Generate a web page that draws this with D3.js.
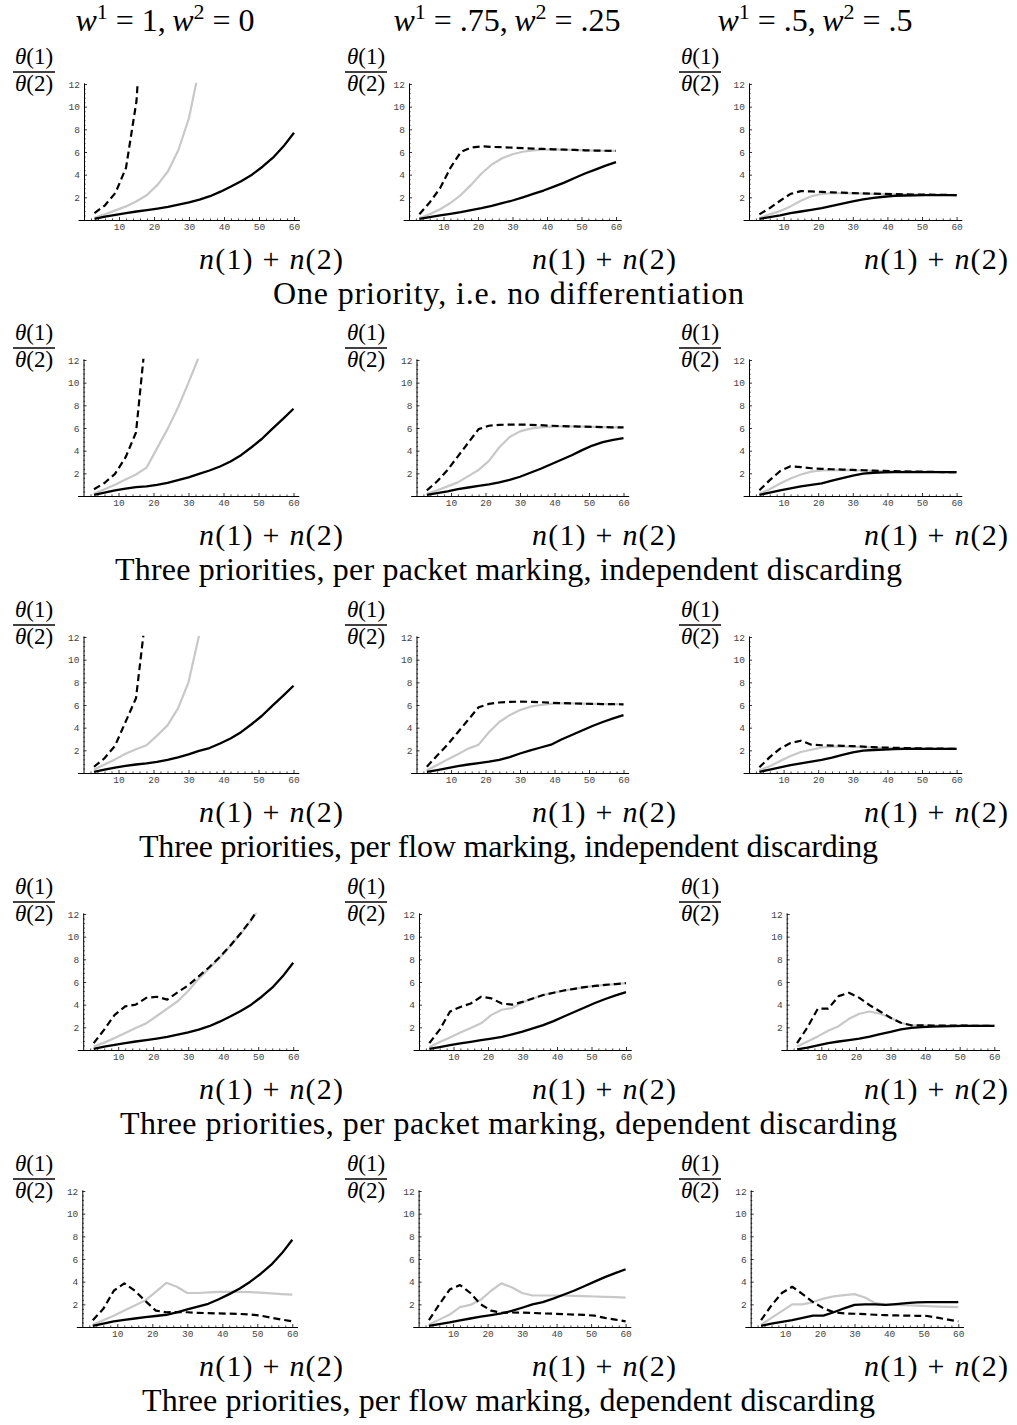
<!DOCTYPE html>
<html>
<head>
<meta charset="utf-8">
<script src="https://cdn.jsdelivr.net/npm/d3@7"></script>
<style>
  html, body { margin: 0; padding: 0; background: #fff; }
  svg { display: block; }
</style>
</head>
<body>
<svg id="fig" width="1017" height="1425"></svg>
<script>
// Total number of flows n(1)+n(2) at which the ratio was evaluated
const nValues = [3, 6, 9, 12, 15, 18, 21, 24, 27, 30, 33, 36, 39, 42, 45, 48, 51, 54, 57, 60];

// Column weights (w1, w2)
const weightW1 = ["1", ".75", ".5"];
const weightW2 = ["0", ".25", ".5"];

const rowCaptions = [
  "One priority, i.e. no differentiation",
  "Three priorities, per packet marking, independent discarding",
  "Three priorities, per flow marking, independent discarding",
  "Three priorities, per packet marking, dependent discarding",
  "Three priorities, per flow marking, dependent discarding"
];

const xTickValues = [10, 20, 30, 40, 50, 60];
const yTickValues = [2, 4, 6, 8, 10, 12];

// theta(1)/theta(2); each array holds the three weight columns, sampled on nValues
const noDiffDashed = [
  [0.6, 1.3, 2.4, 4.6, 10.5, 25],
  [0.5, 1.55, 2.8, 4.6, 6.0, 6.4, 6.5, 6.45, 6.42, 6.38, 6.34, 6.3, 6.27, 6.24, 6.21, 6.18, 6.15, 6.13, 6.11, 6.1],
  [0.5, 1.05, 1.7, 2.3, 2.55, 2.52, 2.48, 2.44, 2.41, 2.38, 2.35, 2.32, 2.3, 2.28, 2.26, 2.25, 2.24, 2.22, 2.21, 2.2]
];
const noDiffGray = [
  [0.2, 0.5, 0.85, 1.2, 1.65, 2.2, 3.1, 4.3, 6.2, 9.0, 13.5],
  [0.15, 0.5, 0.95, 1.5, 2.2, 3.1, 4.1, 4.9, 5.45, 5.8, 6.02, 6.15, 6.2, 6.24, 6.21, 6.18, 6.15, 6.13, 6.11, 6.1],
  [0.15, 0.5, 0.8, 1.2, 1.7, 2.1, 2.3, 2.36, 2.36, 2.35, 2.33, 2.31, 2.29, 2.27, 2.25, 2.24, 2.23, 2.22, 2.21, 2.2]
];
const noDiffBlack = [
  [0.1, 0.3, 0.45, 0.6, 0.75, 0.87, 1.0, 1.15, 1.35, 1.55, 1.8, 2.1, 2.5, 2.95, 3.45, 4.0, 4.7, 5.5, 6.5, 7.7],
  [0.1, 0.25, 0.4, 0.55, 0.7, 0.88, 1.05, 1.25, 1.48, 1.72, 2.0, 2.3, 2.6, 2.95, 3.3, 3.7, 4.1, 4.45, 4.8, 5.1],
  [0.1, 0.25, 0.4, 0.6, 0.75, 0.9, 1.05, 1.25, 1.45, 1.65, 1.82, 1.95, 2.05, 2.12, 2.16, 2.18, 2.19, 2.2, 2.2, 2.2]
];

const packetIndepDashed = [
  [0.6, 1.15, 1.95, 3.4, 5.6, 14.8],
  [0.5, 1.3, 2.3, 3.5, 4.7, 5.9, 6.2, 6.28, 6.3, 6.3, 6.28, 6.25, 6.2, 6.17, 6.14, 6.12, 6.1, 6.08, 6.06, 6.05],
  [0.5, 1.4, 2.2, 2.62, 2.55, 2.45, 2.4, 2.36, 2.33, 2.3, 2.27, 2.24, 2.21, 2.19, 2.17, 2.15, 2.14, 2.12, 2.11, 2.1]
];
const packetIndepGray = [
  [0.2, 0.6, 1.0, 1.45, 1.9, 2.5, 4.2, 5.9, 7.8, 10.0, 12.3],
  [0.2, 0.5, 0.85, 1.2, 1.75, 2.3, 3.1, 4.3, 5.2, 5.7, 5.95, 6.05, 6.12, 6.15, 6.14, 6.12, 6.1, 6.08, 6.06, 6.05],
  [0.2, 0.6, 1.1, 1.55, 1.9, 2.15, 2.25, 2.28, 2.28, 2.27, 2.25, 2.22, 2.2, 2.18, 2.16, 2.15, 2.13, 2.12, 2.11, 2.1]
];
const packetIndepBlack = [
  [0.1, 0.3, 0.5, 0.65, 0.78, 0.85, 0.98, 1.15, 1.4, 1.65, 1.95, 2.25, 2.6, 3.05, 3.6, 4.3, 5.05, 5.95, 6.8, 7.7],
  [0.1, 0.25, 0.4, 0.6, 0.75, 0.9, 1.02, 1.2, 1.42, 1.7, 2.05, 2.4, 2.8, 3.2, 3.6, 4.05, 4.45, 4.75, 4.95, 5.1],
  [0.1, 0.3, 0.5, 0.68, 0.85, 0.98, 1.12, 1.35, 1.58, 1.8, 1.98, 2.05, 2.08, 2.1, 2.1, 2.1, 2.1, 2.1, 2.1, 2.1]
];

const flowIndepDashed = [
  [0.55, 1.3, 2.4, 4.5, 6.6, 14.5],
  [0.55, 1.55, 2.5, 3.6, 4.7, 5.8, 6.1, 6.22, 6.27, 6.3, 6.28, 6.25, 6.2, 6.17, 6.14, 6.12, 6.1, 6.08, 6.07, 6.06],
  [0.5, 1.4, 2.15, 2.65, 2.85, 2.5, 2.45, 2.42, 2.4, 2.37, 2.33, 2.28, 2.24, 2.22, 2.2, 2.18, 2.16, 2.15, 2.14, 2.13]
];
const flowIndepGray = [
  [0.3, 0.75, 1.2, 1.7, 2.1, 2.45, 3.3, 4.2, 5.7, 8.0, 12.1],
  [0.25, 0.7, 1.2, 1.65, 2.15, 2.5, 3.6, 4.5, 5.1, 5.55, 5.85, 6.0, 6.1, 6.15, 6.14, 6.12, 6.1, 6.08, 6.07, 6.06],
  [0.25, 0.6, 1.05, 1.5, 1.85, 2.05, 2.25, 2.32, 2.32, 2.3, 2.28, 2.24, 2.22, 2.2, 2.18, 2.17, 2.15, 2.14, 2.13, 2.13]
];
const flowIndepBlack = [
  [0.1, 0.3, 0.48, 0.62, 0.75, 0.85, 0.98, 1.15, 1.38, 1.65, 1.95, 2.2, 2.6, 3.05, 3.6, 4.3, 5.05, 5.95, 6.8, 7.7],
  [0.1, 0.25, 0.42, 0.6, 0.75, 0.88, 1.0, 1.15, 1.4, 1.72, 2.0, 2.25, 2.5, 2.95, 3.35, 3.75, 4.15, 4.5, 4.82, 5.1],
  [0.1, 0.3, 0.5, 0.7, 0.85, 1.0, 1.15, 1.35, 1.6, 1.82, 1.97, 2.03, 2.07, 2.1, 2.12, 2.13, 2.13, 2.13, 2.13, 2.13]
];

const packetDepDashed = [
  [0.6, 1.8, 3.1, 3.85, 4.0, 4.6, 4.7, 4.45, 5.1, 5.7, 6.5, 7.3, 8.2, 9.2, 10.3, 11.5, 12.9],
  [0.6, 1.8, 3.4, 3.8, 4.1, 4.7, 4.55, 4.1, 4.0, 4.25, 4.55, 4.85, 5.05, 5.25, 5.4, 5.55, 5.65, 5.75, 5.82, 5.9],
  [0.6, 2.0, 3.65, 3.65, 4.75, 5.05, 4.6, 3.95, 3.4, 2.85, 2.4, 2.18, 2.17, 2.16, 2.16, 2.15, 2.15, 2.14, 2.14, 2.13]
];
const packetDepGray = [
  [0.3, 0.65, 1.05, 1.5, 1.95, 2.35, 3.0, 3.65, 4.3, 5.2, 6.3, 7.2, 8.15, 9.15, 10.25, 11.45, 12.85],
  [0.25, 0.7, 1.1, 1.55, 1.95, 2.35, 3.1, 3.55, 3.7, 4.2, 4.55, 4.85, 5.05, 5.25, 5.4, 5.55, 5.65, 5.75, 5.82, 5.9],
  [0.3, 0.75, 1.2, 1.7, 2.1, 2.75, 3.2, 3.4, 3.2, 2.85, 2.4, 2.18, 2.17, 2.16, 2.16, 2.15, 2.15, 2.14, 2.14, 2.13]
];
const packetDepBlack = [
  [0.1, 0.3, 0.45, 0.6, 0.75, 0.87, 1.0, 1.15, 1.35, 1.55, 1.8, 2.1, 2.5, 2.95, 3.45, 4.0, 4.7, 5.5, 6.5, 7.7],
  [0.1, 0.25, 0.42, 0.58, 0.72, 0.87, 1.0, 1.15, 1.38, 1.62, 1.9, 2.2, 2.55, 2.95, 3.35, 3.75, 4.15, 4.5, 4.82, 5.1],
  [0.06, 0.2, 0.4, 0.6, 0.75, 0.88, 1.0, 1.18, 1.4, 1.6, 1.82, 1.95, 2.02, 2.06, 2.09, 2.11, 2.12, 2.12, 2.13, 2.13]
];

const flowDepDashed = [
  [0.6, 1.6, 3.2, 3.85, 3.2, 2.3, 1.45, 1.3, 1.32, 1.3, 1.25, 1.22, 1.2, 1.18, 1.15, 1.1, 1.0, 0.82, 0.65, 0.5],
  [0.6, 2.0, 3.3, 3.7, 3.0, 2.0, 1.45, 1.25, 1.28, 1.27, 1.24, 1.2, 1.17, 1.14, 1.1, 1.07, 1.0, 0.8, 0.65, 0.5],
  [0.6, 1.9, 3.0, 3.55, 2.9, 2.2, 1.65, 1.3, 1.2, 1.17, 1.13, 1.08, 1.04, 1.02, 1.0, 0.99, 0.97, 0.82, 0.65, 0.5]
];
const flowDepGray = [
  [0.2, 0.6, 1.0, 1.45, 1.9, 2.35, 3.1, 3.9, 3.55, 3.0, 3.0, 3.05, 3.1, 3.1, 3.1, 3.07, 3.03, 2.97, 2.9, 2.85],
  [0.2, 0.65, 1.1, 1.75, 1.95, 2.4, 3.2, 3.85, 3.5, 3.0, 2.78, 2.78, 2.78, 2.78, 2.75, 2.72, 2.69, 2.66, 2.63, 2.6],
  [0.2, 0.8, 1.4, 2.0, 2.0, 2.2, 2.5, 2.7, 2.82, 2.9, 2.6, 2.1, 1.98, 1.95, 1.92, 1.88, 1.85, 1.8, 1.77, 1.75]
];
const flowDepBlack = [
  [0.1, 0.3, 0.5, 0.62, 0.75, 0.88, 0.97, 1.08, 1.3, 1.55, 1.8, 2.05, 2.45, 2.9, 3.4, 4.0, 4.7, 5.5, 6.5, 7.7],
  [0.1, 0.25, 0.4, 0.58, 0.75, 0.92, 1.05, 1.2, 1.42, 1.7, 2.0, 2.2, 2.5, 2.85, 3.2, 3.6, 4.0, 4.4, 4.75, 5.1],
  [0.1, 0.3, 0.45, 0.6, 0.8, 1.0, 1.0, 1.3, 1.65, 1.95, 2.0, 2.0, 1.95, 2.02, 2.1, 2.17, 2.2, 2.2, 2.2, 2.2]
];

// Rows of the figure: [dashed, gray, black] series per row
const rowSeries = [
  [noDiffDashed, noDiffGray, noDiffBlack],
  [packetIndepDashed, packetIndepGray, packetIndepBlack],
  [flowIndepDashed, flowIndepGray, flowIndepBlack],
  [packetDepDashed, packetDepGray, packetDepBlack],
  [flowDepDashed, flowDepGray, flowDepBlack]
];

// ---- layout ----
const rowAxisY = [220, 496, 773, 1050, 1327];          // pixel row of the x axis
const panelOriginX = [                                 // pixel column of n = 0
  [84, 409, 749],
  [83.5, 416.5, 749],
  [83.5, 416.5, 749],
  [83.2, 419, 786.7],
  [82.3, 418.6, 750.7]
];
const unitX = [3.5, 3.45, 3.46];                       // pixels per flow
const plotHeight = 136;                                // pixels for 12 units
const fracCenterX = [34, 366, 700];
const xLabelRight = [343, 676, 1008];
const headerCenterX = [165, 507, 815];
const captionWidth = [471, 787, 739, 777, 733];

const serif = "'Liberation Serif', 'Times New Roman', serif";
const mono = "'Liberation Mono', 'DejaVu Sans Mono', monospace";

const svg = d3.select("#fig");
svg.append("rect").attr("width", 1017).attr("height", 1425).attr("fill", "#fff");

// ---- column headers ----
weightW1.forEach((w1, c) => {
  const t = svg.append("text")
    .attr("x", headerCenterX[c]).attr("y", 31)
    .attr("text-anchor", "middle")
    .attr("font-family", serif).attr("font-size", 32);
  t.append("tspan").attr("font-style", "italic").text("w");
  t.append("tspan").attr("font-size", 22).attr("dy", -12).text("1");
  t.append("tspan").attr("dy", 12).text(" = " + w1 + ",\u2009");
  t.append("tspan").attr("font-style", "italic").text("w");
  t.append("tspan").attr("font-size", 22).attr("dy", -12).text("2");
  t.append("tspan").attr("dy", 12).text(" = " + weightW2[c]);
});

const lineStyles = [
  { stroke: "#000", width: 2.2, dash: "7,4" },
  { stroke: "#c8c8c8", width: 2.2, dash: null },
  { stroke: "#000", width: 2.3, dash: null }
];
const drawOrder = [1, 2, 0];

rowSeries.forEach((series, r) => {
  const ay = rowAxisY[r];

  for (let c = 0; c < 3; c++) {
    const ox = panelOriginX[r][c], k = unitX[c];
    const x = d3.scaleLinear().domain([-1.7, 61.5]).range([ox - 1.7 * k, ox + 61.5 * k]);
    const y = d3.scaleLinear().domain([0, 12]).range([ay, ay - plotHeight]);
    const yAxisScale = d3.scaleLinear().domain([0, 12.1]).range([ay, y(12.1)]);

    const g = svg.append("g");

    // y-axis label: theta(1) / theta(2)
    const fx = fracCenterX[c], fy = ay - 148;
    const num = g.append("text").attr("x", fx).attr("y", fy - 8)
      .attr("text-anchor", "middle").attr("font-family", serif).attr("font-size", 23);
    num.append("tspan").attr("font-style", "italic").text("\u03b8");
    num.append("tspan").text("(1)");
    g.append("line").attr("x1", fx - 21).attr("x2", fx + 21).attr("y1", fy).attr("y2", fy)
      .attr("stroke", "#000").attr("stroke-width", 1.6);
    const den = g.append("text").attr("x", fx).attr("y", fy + 19)
      .attr("text-anchor", "middle").attr("font-family", serif).attr("font-size", 23);
    den.append("tspan").attr("font-style", "italic").text("\u03b8");
    den.append("tspan").text("(2)");

    // x-axis label
    const xl = g.append("text").attr("x", xLabelRight[c]).attr("y", ay + 49)
      .attr("text-anchor", "end").attr("font-family", serif).attr("font-size", 30)
      .attr("textLength", 144).attr("lengthAdjust", "spacing");
    xl.append("tspan").attr("font-style", "italic").text("n");
    xl.append("tspan").text("(1) + ");
    xl.append("tspan").attr("font-style", "italic").text("n");
    xl.append("tspan").text("(2)");

    // curves
    const clipId = `clip-${r}-${c}`;
    g.append("clipPath").attr("id", clipId).append("rect")
      .attr("x", x(-1.7)).attr("y", y(12.1))
      .attr("width", x(61.5) - x(-1.7)).attr("height", y(0) - y(12.1) + 3);
    const line = d3.line().defined(d => d[1] != null)
      .x(d => x(d[0])).y(d => y(d[1]));
    const curves = g.append("g").attr("clip-path", `url(#${clipId})`);
    drawOrder.forEach(s => {
      const vals = series[s][c];
      const pts = vals.map((v, i) => [nValues[i], v]);
      const st = lineStyles[s];
      curves.append("path").datum(pts)
        .attr("d", line)
        .attr("fill", "none")
        .attr("stroke", st.stroke)
        .attr("stroke-width", st.width)
        .attr("stroke-linejoin", "round")
        .attr("stroke-dasharray", st.dash);
    });

    // axes: major ticks
    const xAxis = g.append("g").attr("transform", `translate(0,${ay})`)
      .call(d3.axisBottom(x).tickValues(xTickValues).tickSizeInner(-3).tickSizeOuter(0).tickPadding(3));
    const yAxis = g.append("g").attr("transform", `translate(${x(0)},0)`)
      .call(d3.axisLeft(yAxisScale).tickValues(yTickValues).tickSizeInner(-3).tickSizeOuter(0).tickPadding(4));
    [xAxis, yAxis].forEach(a => {
      a.attr("font-family", mono).attr("font-size", 9.5);
      a.selectAll(".tick text").attr("fill", "#444");
      a.selectAll(".tick line").attr("stroke", "#000").attr("stroke-width", 0.8);
      a.select(".domain").attr("stroke", "#000").attr("stroke-width", 1);
    });

    // axes: minor ticks
    const minorX = d3.range(2, 61, 2).filter(v => v % 10 !== 0);
    const minorY = d3.range(0.4, 12.01, 0.4).filter(v => Math.abs(v / 2 - Math.round(v / 2)) > 1e-6);
    const mx = g.append("g").attr("transform", `translate(0,${ay})`)
      .call(d3.axisBottom(x).tickValues(minorX).tickSizeInner(-1.6).tickSizeOuter(0).tickFormat(""));
    const my = g.append("g").attr("transform", `translate(${x(0)},0)`)
      .call(d3.axisLeft(yAxisScale).tickValues(minorY).tickSizeInner(-1.6).tickSizeOuter(0).tickFormat(""));
    [mx, my].forEach(a => {
      a.select(".domain").remove();
      a.selectAll(".tick line").attr("stroke", "#000").attr("stroke-width", 0.7);
    });
  }

  // row caption
  svg.append("text")
    .attr("x", 508.5).attr("y", ay + 84)
    .attr("text-anchor", "middle")
    .attr("font-family", serif).attr("font-size", 32)
    .attr("textLength", captionWidth[r]).attr("lengthAdjust", "spacing")
    .text(rowCaptions[r]);
});
</script>
</body>
</html>
